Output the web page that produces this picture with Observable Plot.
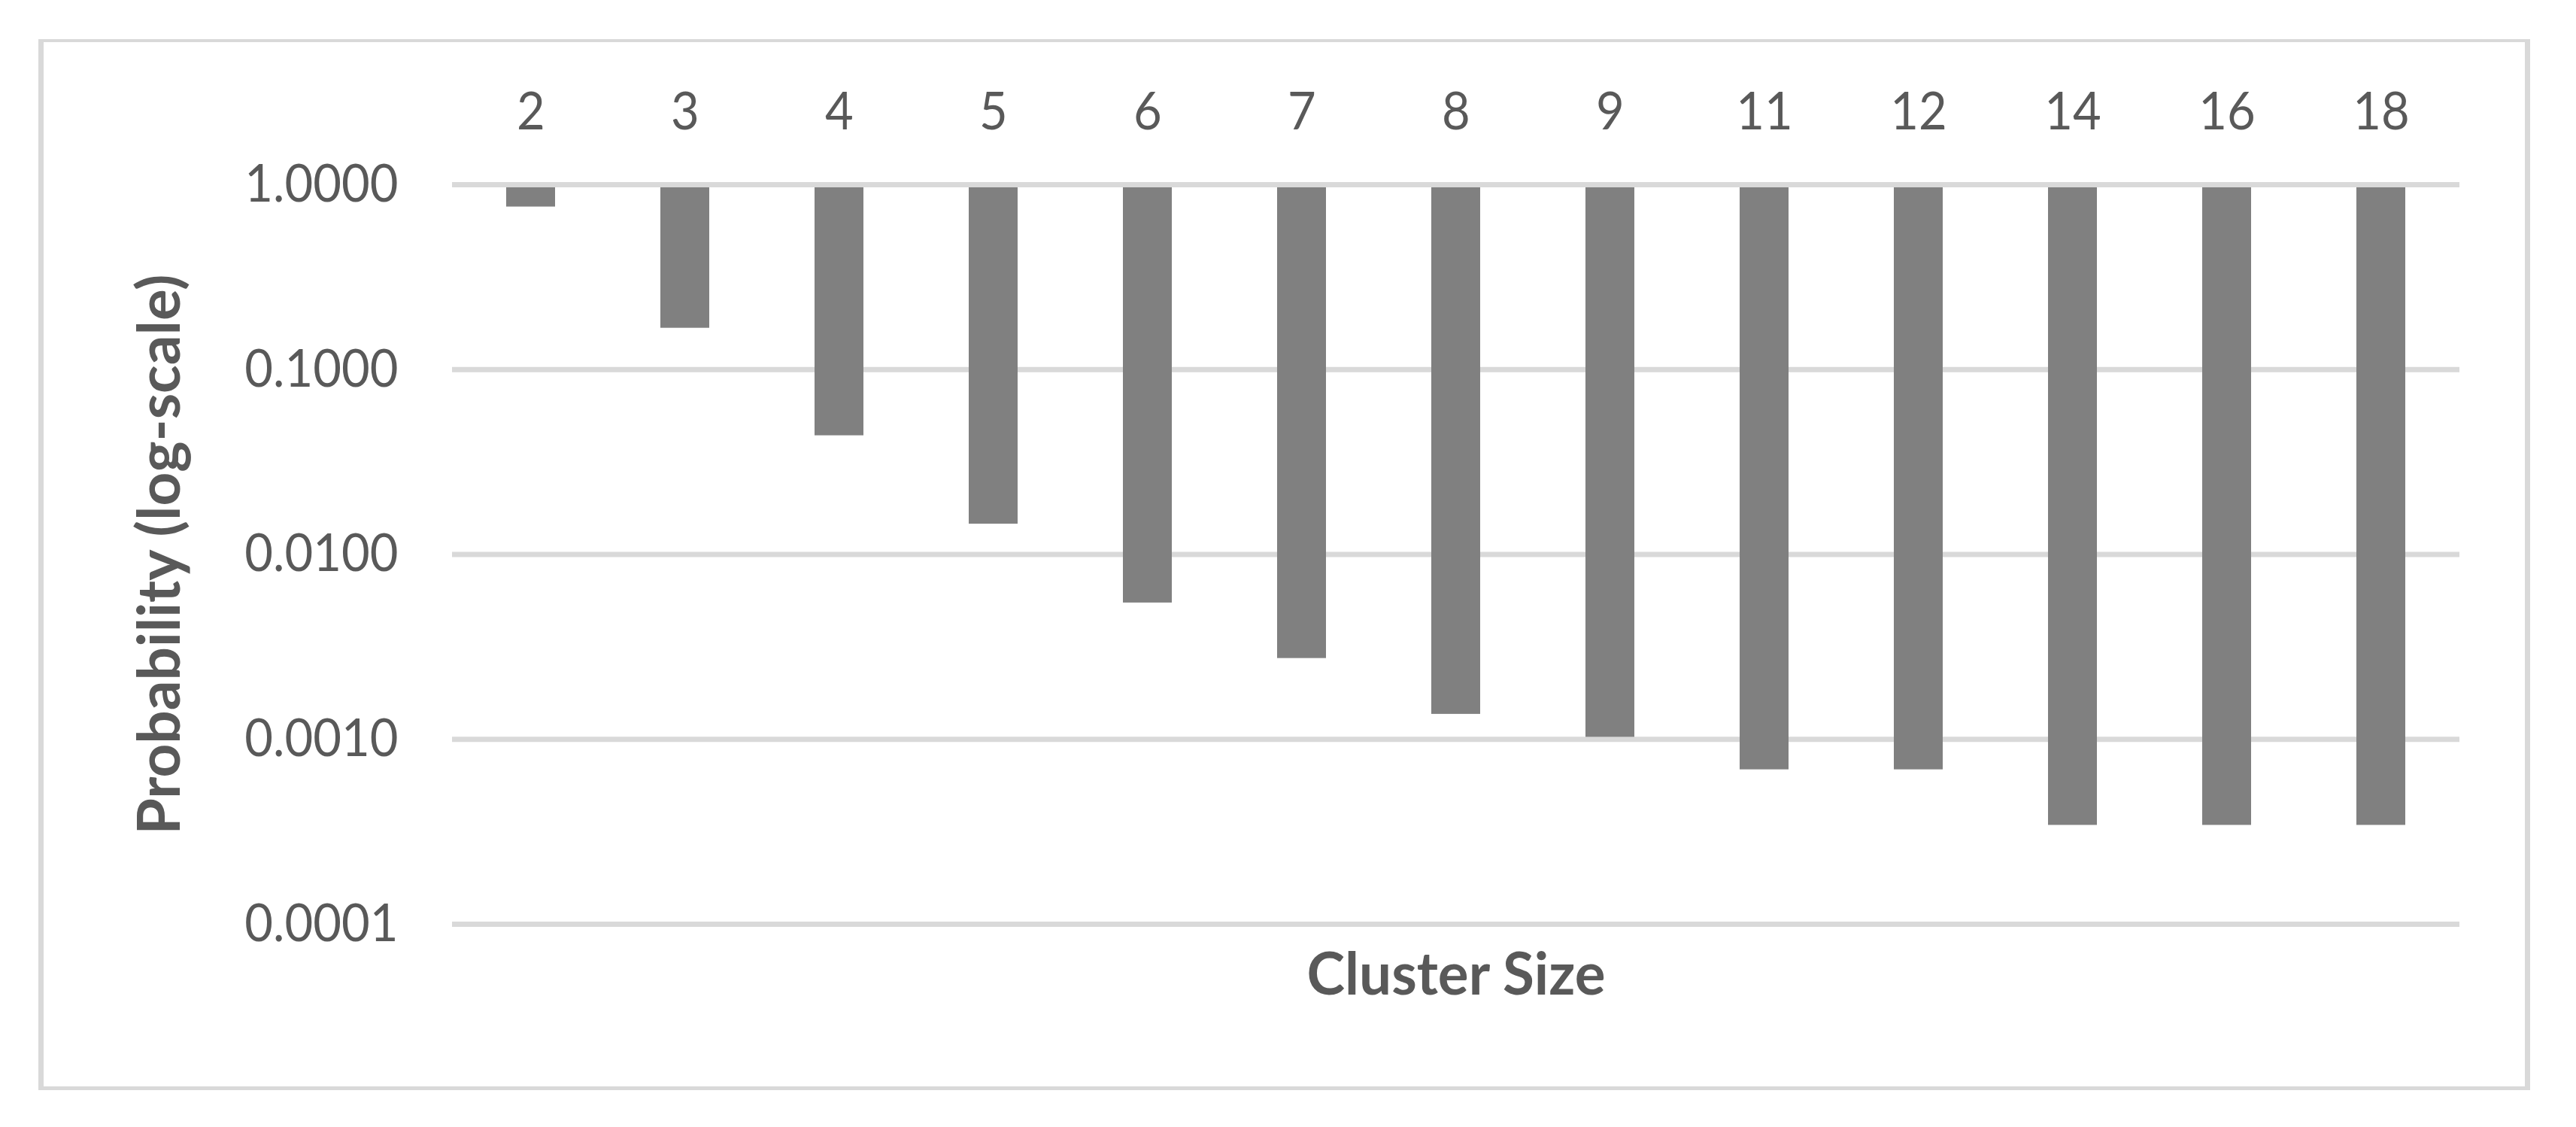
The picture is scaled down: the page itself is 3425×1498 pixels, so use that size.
<!DOCTYPE html>
<html>
<head>
<meta charset="utf-8">
<script src="https://cdn.jsdelivr.net/npm/d3@7"></script>
<script src="https://cdn.jsdelivr.net/npm/@observablehq/plot@0.6"></script>
<style>
  html, body { margin: 0; padding: 0; background: #fff; }
  #wrap { position: relative; width: 3425px; height: 1498px; overflow: hidden; }
  #border { position: absolute; left: 51px; top: 52px; width: 3313px; height: 1397px;
            box-sizing: border-box; border-style: solid; border-color: #d9d9d9;
            border-width: 4px 7px 5px 7px; }
  #chart { position: absolute; left: 0; top: 0; }
</style>
</head>
<body>
<div id="wrap"><div id="border"></div><div id="chart"></div></div>
<script>
// Data
const clusterSizes = ["2", "3", "4", "5", "6", "7", "8", "9", "11", "12", "14", "16", "18"];
const probabilities = [0.758, 0.1675, 0.0439, 0.0146, 0.00547, 0.00274, 0.001367, 0.001027,
                       0.000685, 0.000685, 0.000343, 0.000343, 0.000343];
const yTicks = [1, 0.1, 0.01, 0.001, 0.0001];
const xTitle = "Cluster Size";
const yTitle = "Probability (log-scale)";

const data = clusterSizes.map((s, i) => ({size: s, p: probabilities[i]}));

const svg = Plot.plot({
  width: 3425,
  height: 1498,
  marginLeft: 601,
  marginRight: 155,
  marginTop: 245,
  marginBottom: 270,
  style: {fontFamily: "Lato, sans-serif", fontSize: "70px", color: "#595959", background: "transparent"},
  x: {domain: clusterSizes, type: "band", paddingInner: 0.683, paddingOuter: 0.3415,
      axis: "top", tickSize: 0, tickPadding: 74, label: null},
  y: {type: "log", domain: [0.0001, 1], ticks: yTicks, tickFormat: d => d.toFixed(4),
      tickSize: 0, tickPadding: 72, label: null},
  marks: [
    Plot.ruleY(yTicks, {stroke: "#d9d9d9", strokeWidth: 7}),
    Plot.barY(data, {x: "size", y1: 1, y2: "p", fill: "#808080"}),
    Plot.ruleY([1], {stroke: "#d9d9d9", strokeWidth: 7}),
    Plot.text([xTitle], {frameAnchor: "bottom", text: d => d, dy: 93, lineAnchor: "bottom",
      textAnchor: "middle", fontWeight: "bold", fontSize: 78, fill: "#595959"}),
    Plot.text([yTitle], {frameAnchor: "left", text: d => d, dx: -363, rotate: -90, lineAnchor: "bottom",
      textAnchor: "middle", fontWeight: "bold", fontSize: 78, fill: "#595959"})
  ]
});
document.getElementById("chart").appendChild(svg);

// Narrow the Lato glyphs to the widths of the original (Calibri-like) lettering
d3.select(svg).selectAll("text").each(function() {
  const t = this.textContent;
  const sel = d3.select(this);
  if (t === xTitle) {
    sel.attr("textLength", 397).attr("lengthAdjust", "spacingAndGlyphs");
  } else if (t === yTitle) {
    sel.attr("textLength", 745).attr("lengthAdjust", "spacingAndGlyphs");
  } else if (/^[0-9.]+$/.test(t)) {
    const len = this.getComputedTextLength();
    sel.attr("textLength", len * 0.93).attr("lengthAdjust", "spacingAndGlyphs");
  }
});
</script>
</body>
</html>
